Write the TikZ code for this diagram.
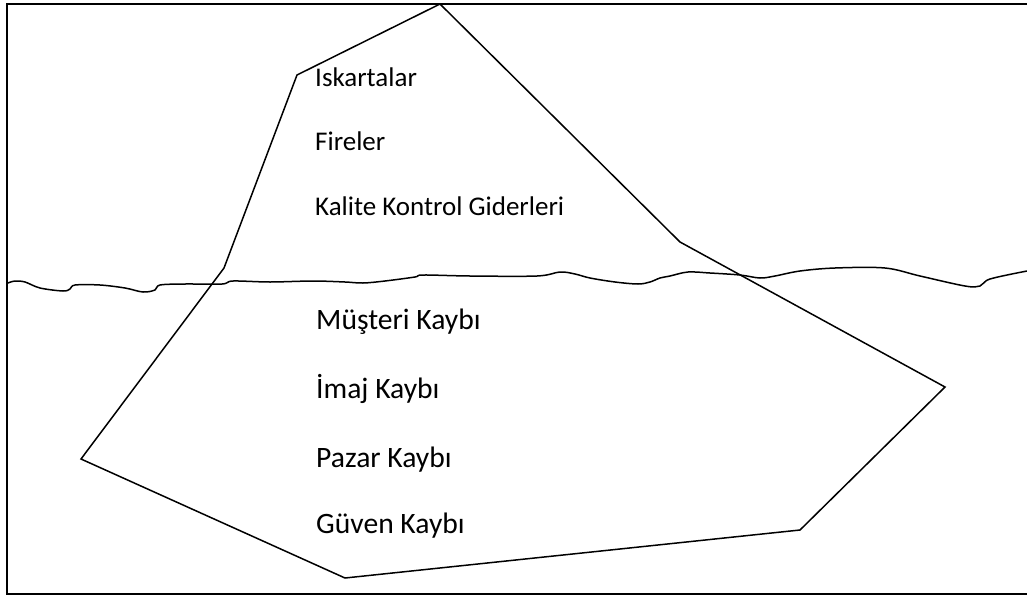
\documentclass[tikz,border=0pt]{standalone}
\usepackage{fontspec}
\setmainfont{Carlito}
\begin{document}
\begin{tikzpicture}[x=1pt,y=-1pt,
  stroke/.style={line width=1.5pt,line join=miter},
  toplabel/.style={anchor=base west,inner sep=0pt,font=\fontsize{27}{30}\selectfont},
  lowlabel/.style={anchor=base west,inner sep=0pt,font=\fontsize{29.6}{33}\selectfont}]
\useasboundingbox (0,0) rectangle (1027,597);
% frame (open on the right)
\draw[stroke] (1027,4) -- (7,4) -- (7,594) -- (1027,594);
% iceberg outline
\coordinate (peak) at (440,4);
\coordinate (lu) at (297,75);
\coordinate (lm) at (224,268);
\coordinate (ll) at (81,459);
\coordinate (bot) at (345,578);
\coordinate (br) at (800,530);
\coordinate (rt) at (945,387);
\coordinate (rm) at (680,242);
\draw[stroke] (peak) -- (lu) -- (lm) -- (ll) -- (bot) -- (br) -- (rt) -- (rm) -- cycle;
% water line
\draw[stroke,line join=round] plot[smooth,tension=0.55] coordinates {
 (8,283) (15,281) (25,282) (40,288) (63,291) (70,289) (75,285) (100,285)
 (125,288) (143,292) (155,290) (160,285) (185,284) (222,284) (233,281)
 (270,282) (313,281) (345,282) (363,283) (385,281) (415,277) (423,275)
 (470,276) (537,276) (560,272) (575,274) (590,278) (615,282) (638,284)
 (650,282) (660,278) (670,276) (688,272) (710,273) (740,275) (760,278)
 (775,276) (800,271) (835,268) (885,268) (920,276) (965,286) (980,286)
 (990,279) (1027,271)};
% labels
\node[toplabel] (t1) at (315,86) {Iskartalar};
\node[toplabel] (t2) at (315,150) {Fireler};
\node[toplabel] (t3) at (315,215) {Kalite Kontrol Giderleri};
\node[lowlabel] (b1) at (316,329) {Müşteri Kaybı};
\node[lowlabel] (b2) at (316,398) {İmaj Kaybı};
\node[lowlabel] (b3) at (316,467) {Pazar Kaybı};
\node[lowlabel] (b4) at (316,533) {Güven Kaybı};
\end{tikzpicture}
\end{document}
